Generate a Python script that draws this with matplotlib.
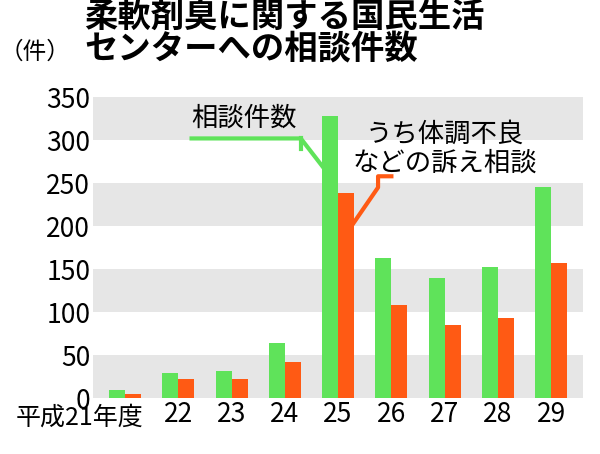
import matplotlib
matplotlib.use("Agg")
import matplotlib.pyplot as plt
import numpy as np

plt.rcParams['font.family'] = ['Noto Sans CJK JP', 'DejaVu Sans']

categories = ["平成21年度", "22", "23", "24", "25", "26", "27", "28", "29"]
total = [9, 29, 31, 64, 328, 163, 140, 153, 245]
health = [5, 22, 22, 42, 238, 108, 85, 93, 157]
yticks = [0, 50, 100, 150, 200, 250, 300, 350]

green = "#5fe35a"
orange = "#ff5a14"

fig = plt.figure(figsize=(6, 4.54), dpi=100)
ax = fig.add_axes([0.155, 0.123, 0.817, 0.663])
x = np.arange(len(categories))
w = 0.3
for lo in range(0, 350, 100):
    ax.axhspan(lo, lo + 50, color="#e6e6e6", zorder=0, lw=0)
ax.bar(x - w/2, total, w, color=green, zorder=2)
ax.bar(x + w/2, health, w, color=orange, zorder=2)
ax.set_ylim(0, 350)
ax.set_xlim(-0.6, 8.6)
ax.set_yticks(yticks)
ax.set_yticklabels([str(v) for v in yticks], fontsize=19)
ax.set_xticks(x)
ax.set_xticklabels([""] + categories[1:], fontsize=19)
ax.text(0.35, -8, categories[0], fontsize=18, ha="right", va="top")
for s in ax.spines.values():
    s.set_visible(False)
ax.tick_params(length=0, pad=2)

# annotations
ax.text(1.25, 325, "相談件数", fontsize=19, va="center", ha="left")
ax.plot([1.25, 3.3, 3.8], [302, 302, 262], color=green, lw=3, zorder=3)
ax.plot([3.3, 3.3], [302, 290], color=green, lw=3, zorder=3)
ax.text(6.0, 290, "うち体調不良\nなどの訴え相談", fontsize=19, va="center", ha="center", linespacing=1.1)
ax.plot([4.25, 4.75, 4.75, 5.0], [200, 245, 258, 258], color=orange, lw=3, zorder=3)

fig.text(0.14, 0.998, "柔軟剤臭に関する国民生活\nセンターへの相談件数", fontsize=24, fontweight="bold",
         va="top", ha="left", linespacing=1.0)
fig.text(0.0, 0.885, "（件）", fontsize=17, va="center", ha="left")

fig.savefig("out.png", dpi=100)
